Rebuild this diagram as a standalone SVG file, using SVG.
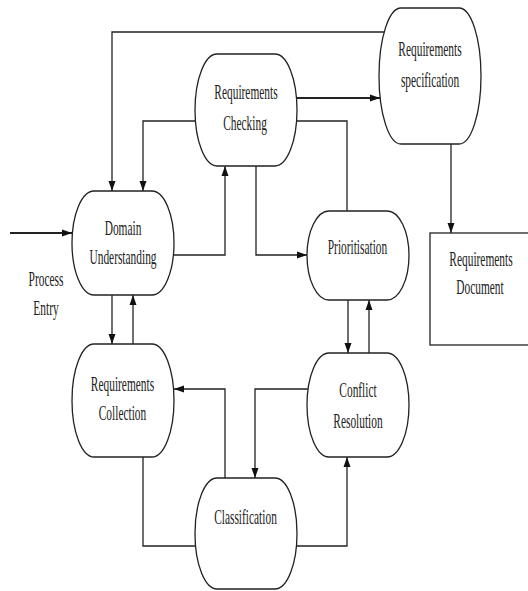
<svg xmlns="http://www.w3.org/2000/svg" width="528" height="591" viewBox="0 0 528 591">
<style>
.n{fill:#fff;stroke:#222;stroke-width:1.3}
.c{fill:none;stroke:#222;stroke-width:1.3}
.t{stroke-width:2.2}
text{font-family:"Liberation Serif","Times New Roman",serif;font-size:20px;fill:#222;text-anchor:middle}
</style>
<defs>
<marker id="a" markerUnits="userSpaceOnUse" markerWidth="10" markerHeight="10" viewBox="0 0 10 10" refX="10" refY="5" orient="auto">
<path d="M0,1.5 L10,5 L0,8.5 Z" fill="#111"/>
</marker>
</defs>
<rect width="528" height="591" fill="#fff"/>
<g id="connectors">
<path class="c" d="M384,32 H112 V191" marker-end="url(#a)"/>
<path class="c" d="M195,121 H143 V191" marker-end="url(#a)"/>
<path class="c" d="M174,255 H225 V166" marker-end="url(#a)"/>
<path class="c t" d="M297,98 H380" marker-end="url(#a)"/>
<path class="c" d="M297,121 H347 V211"/>
<path class="c" d="M256,166 V255 H307" marker-end="url(#a)"/>
<path class="c" d="M112,295 V344" marker-end="url(#a)"/>
<path class="c" d="M133,344 V295" marker-end="url(#a)"/>
<path class="c" d="M348,300 V353" marker-end="url(#a)"/>
<path class="c" d="M369,353 V300" marker-end="url(#a)"/>
<path class="c" d="M451,144 V233" marker-end="url(#a)"/>
<path class="c" d="M308,389 H255 V478" marker-end="url(#a)"/>
<path class="c" d="M225,478 V389 H174" marker-end="url(#a)"/>
<path class="c" d="M143,457 V546 H195.5"/>
<path class="c" d="M297,546 H347 V457" marker-end="url(#a)"/>
<path class="c t" d="M10,233 H72" marker-end="url(#a)"/>
</g>
<g id="checking">
<rect class="n" x="195" y="54" width="102" height="112" rx="22" ry="56"/>
<text transform="translate(246,99) scale(0.57,1)">Requirements</text>
<text transform="translate(245,130) scale(0.57,1)">Checking</text>
</g>
<g id="specification">
<rect class="n" x="379" y="8" width="102" height="136" rx="22" ry="68"/>
<text transform="translate(430,56) scale(0.57,1)">Requirements</text>
<text transform="translate(430,87) scale(0.57,1)">specification</text>
</g>
<g id="domain">
<rect class="n" x="72" y="191" width="102" height="104" rx="22" ry="52"/>
<text transform="translate(123,235) scale(0.57,1)">Domain</text>
<text transform="translate(123,264) scale(0.57,1)">Understanding</text>
</g>
<g id="entry">
<text transform="translate(46,286) scale(0.57,1)">Process</text>
<text transform="translate(46,315) scale(0.57,1)">Entry</text>
</g>
<g id="prioritisation">
<rect class="n" x="307" y="211" width="102" height="89" rx="22" ry="44.5"/>
<text transform="translate(357.5,254) scale(0.57,1)">Prioritisation</text>
</g>
<g id="document">
<rect class="n" x="430" y="233" width="110" height="112"/>
<text transform="translate(481,266) scale(0.57,1)">Requirements</text>
<text transform="translate(480,294) scale(0.57,1)">Document</text>
</g>
<g id="collection">
<rect class="n" x="72" y="344" width="102" height="113" rx="22" ry="56.5"/>
<text transform="translate(122.5,391) scale(0.57,1)">Requirements</text>
<text transform="translate(122.5,420) scale(0.57,1)">Collection</text>
</g>
<g id="conflict">
<rect class="n" x="307" y="353" width="102" height="104" rx="22" ry="52"/>
<text transform="translate(358,397) scale(0.57,1)">Conflict</text>
<text transform="translate(358,428) scale(0.57,1)">Resolution</text>
</g>
<g id="classification">
<rect class="n" x="195" y="478" width="102" height="111" rx="22" ry="55.5"/>
<text transform="translate(245.5,524) scale(0.57,1)">Classification</text>
</g>
</svg>
